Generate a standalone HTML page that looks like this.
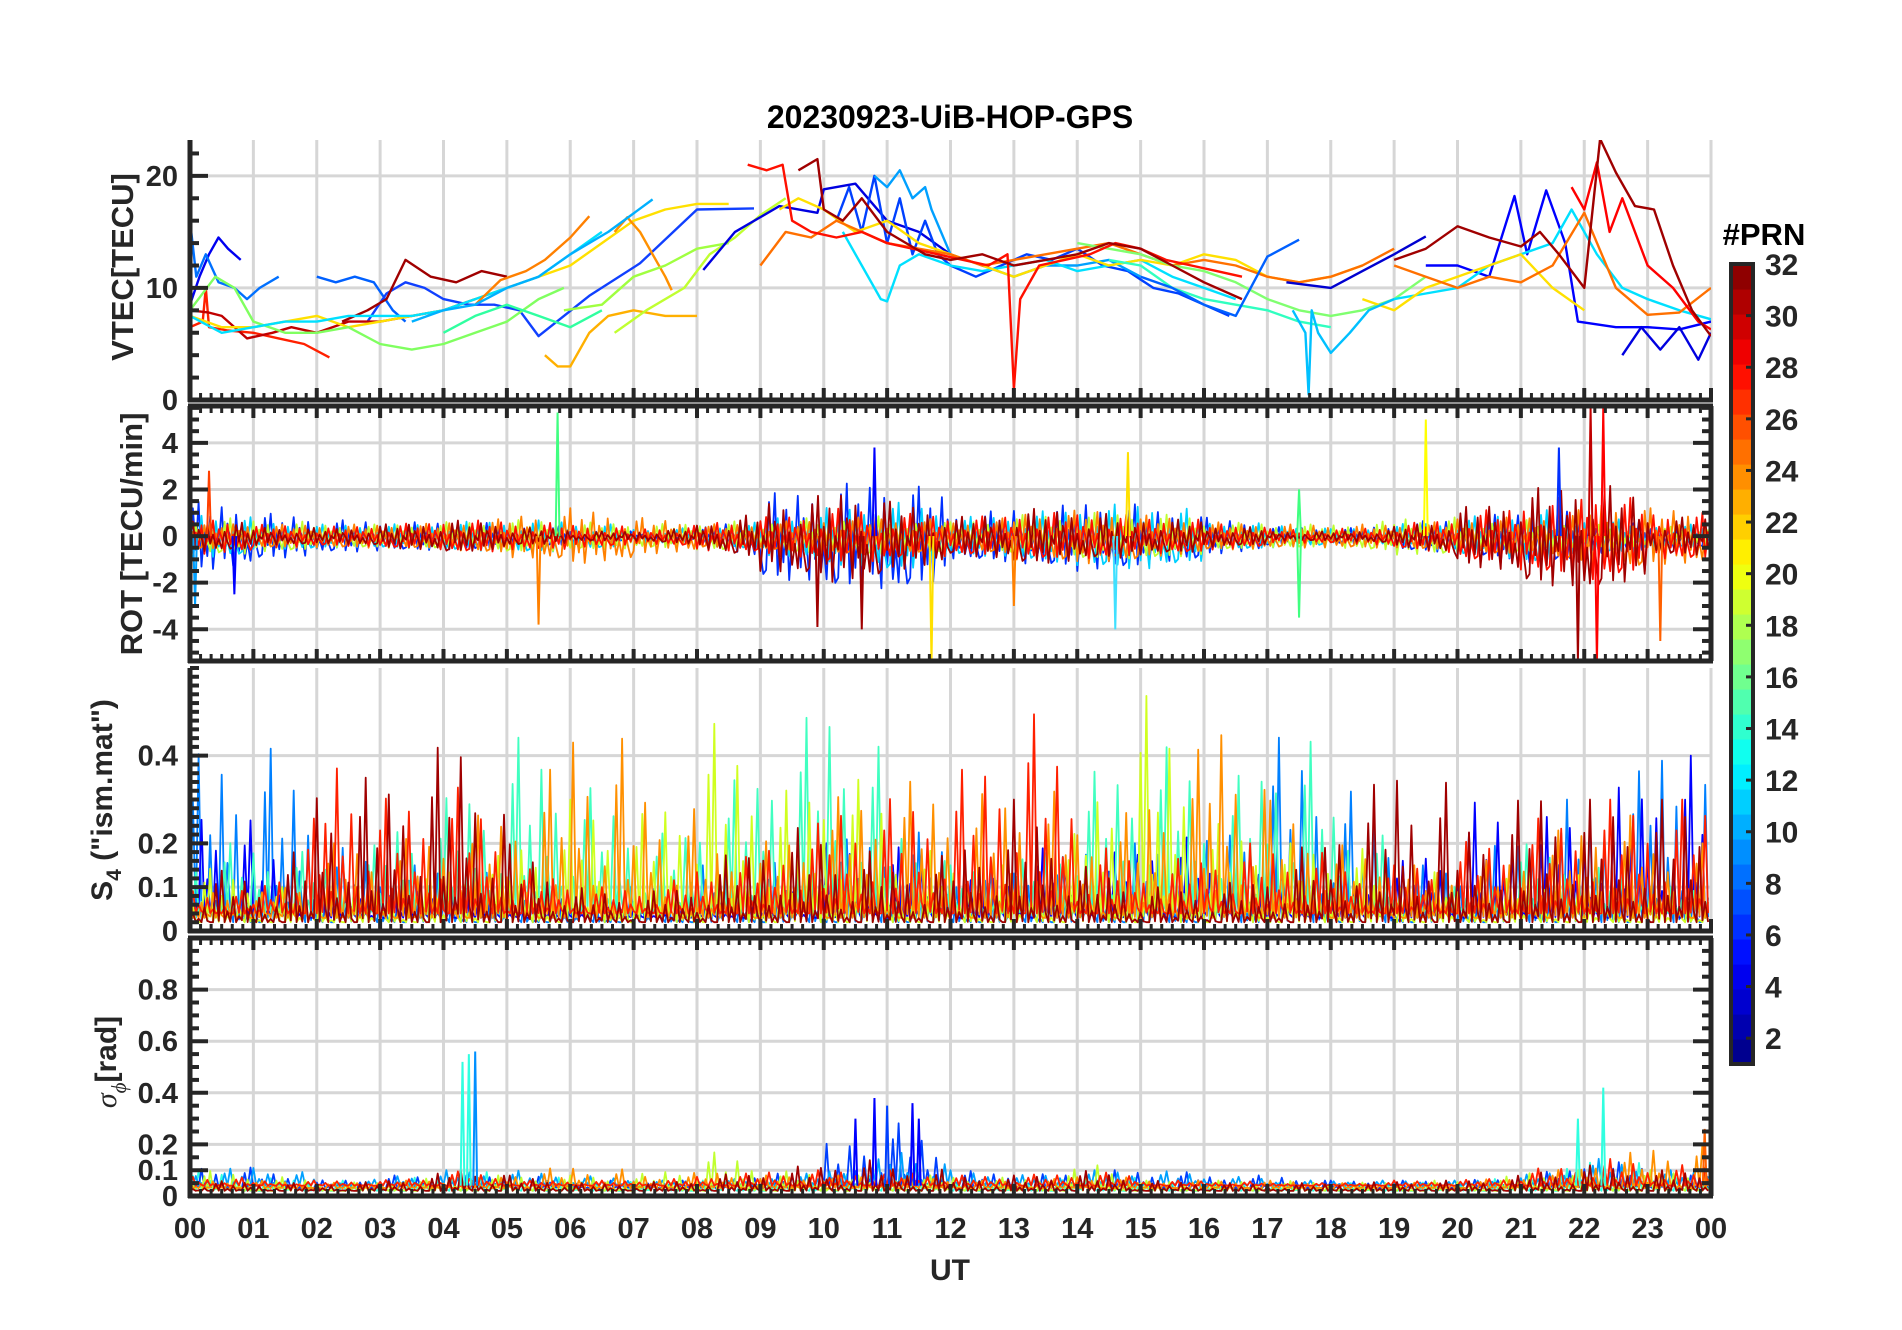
<!DOCTYPE html>
<html><head><meta charset="utf-8"><title>20230923-UiB-HOP-GPS</title>
<style>
html,body{margin:0;padding:0;background:#fff;}
svg{display:block;font-family:"Liberation Sans",Arial,sans-serif;font-weight:bold;}
</style></head>
<body>
<svg id="fig" width="1902" height="1330" viewBox="0 0 1902 1330" xmlns="http://www.w3.org/2000/svg">
<rect width="1902" height="1330" fill="#fff"/>
<text x="950" y="128" font-size="32" text-anchor="middle" fill="#000">20230923-UiB-HOP-GPS</text>
<g id="grid"></g><g id="marks"></g><g id="axes"></g><g id="cbar"></g>
<text transform="translate(133,267) rotate(-90)" font-size="31" text-anchor="middle" fill="#262626">VTEC[TECU]</text>
<text transform="translate(142,534) rotate(-90)" font-size="31" text-anchor="middle" fill="#262626">ROT [TECU/min]</text>
<text transform="translate(112,800) rotate(-90)" font-size="30" text-anchor="middle" fill="#262626">S<tspan font-size="21" dy="9">4</tspan><tspan dy="-9"> ("ism.mat")</tspan></text>
<text transform="translate(116,1062) rotate(-90)" font-size="30" text-anchor="middle" fill="#262626"><tspan font-style="italic" font-weight="normal" font-family="Liberation Serif,serif">σ</tspan><tspan font-size="21" dy="10" font-style="italic" font-weight="normal" font-family="Liberation Serif,serif">ϕ</tspan><tspan dy="-10">[rad]</tspan></text>
<text x="950" y="1280" font-size="30" text-anchor="middle" fill="#262626">UT</text>
<text x="1764" y="245" font-size="31" text-anchor="middle" fill="#000">#PRN</text>
</svg>
<script>
// ---------- data ----------
const hourTicks=[0,1,2,3,4,5,6,7,8,9,10,11,12,13,14,15,16,17,18,19,20,21,22,23,24];
const hourLabels=["00","01","02","03","04","05","06","07","08","09","10","11","12","13","14","15","16","17","18","19","20","21","22","23","00"];
const vtecTicks=[0,10,20];
const rotTicks=[-4,-2,0,2,4];
const s4Ticks=[0,0.1,0.2,0.4];
const sigTicks=[0,0.1,0.2,0.4,0.6,0.8];
const prnTicks=[2,4,6,8,10,12,14,16,18,20,22,24,26,28,30,32];

// VTEC series: colour, times (h), values (TECU)
const vtecColors=['#0000f0','#0070ff','#0060ff','#1040ff','#ff2000','#c00000','#a00000','#ffe000','#80ff60','#00e0ff','#ff8000','#ff9000','#ffb000','#30ffa0','#00b0ff','#c0ff30','#a0ff40','#0000e0','#0040ff','#00a0ff','#00e0ff','#ffe000','#ff7000','#80ff70','#30ffc0','#0060ff','#0000d0','#0000ff','#0000e0','#00e0ff','#ffe000','#00c0ff','#ff7000','#ff1000','#a00000','#ff0000','#a00000'];
const vtecTimes=[
[0,0.15,0.3,0.45,0.6,0.8],
[0,0.1,0.25,0.45,0.7,0.9,1.1,1.4],
[2,2.3,2.6,2.9,3.2,3.4],
[2.8,3.1,3.4,3.7,4.0,4.4,4.8,5.2,5.5,6.3,7.1,8.0,8.9],
[0,0.2,0.25,0.3,0.6,1,1.4,1.8,2.2],
[0,0.3,0.5,0.9,1.3,1.6,2,2.5,3,3.5,4,4.5],
[2.4,2.8,3.1,3.4,3.8,4.2,4.6,5.0],
[0,0.5,1,1.5,2,2.5,3,3.5,4,4.5,5,5.5,6,6.5,7,7.5,8,8.5],
[0,0.4,0.7,1,1.5,2,2.5,3,3.5,4,4.5,5,5.5,5.9],
[0,0.5,1,1.5,2,2.5,3,3.5,4,4.5,5,5.5,6,6.5],
[4.5,4.9,5.3,5.6,6,6.3],
[6.7,6.9,7.1,7.3,7.5,7.6],
[5.6,5.8,6,6.3,6.6,7,7.5,8],
[4,4.5,5,5.5,6,6.5],
[3.5,4,4.5,5,5.5,6,6.6,7.3],
[6.7,7.2,7.8,8.2,8.6,9,9.4],
[5.9,6.5,7,7.5,8,8.5],
[8.1,8.6,9.3,9.9,10.0,10.5,11,11.5,12],
[10.2,10.4,10.6,10.8,11,11.2,11.4,11.6,11.8,12,12.4,12.8,13.2,13.6,14,14.4,14.8,15.2,15.6,16.0,16.4],
[10.8,11,11.2,11.4,11.6,11.7,12,12.5,13,13.5,14,14.5,15],
[10.3,10.6,10.9,11,11.2,11.5,12,12.5,13,13.5,14,14.5,15,15.5,16,16.5],
[9.3,9.6,10,10.5,11,11.5,12,12.5,13,13.5,14,14.5,15,15.5,16,16.5,17,17.5,18,18.5],
[9,9.4,9.8,10.2,10.6,11,11.5,12,12.5,13,13.5,14,14.5,15,15.5,16,16.5,17,17.5,18,18.5,19],
[14,14.5,15,15.5,16,16.5,17,17.5,18,18.5,19,19.5],
[14.5,15,15.5,16,16.5,17,17.5,18],
[15,15.5,16,16.5,17,17.5],
[17.3,18,18.5,19,19.5],
[19.5,20,20.5,20.9,21.1,21.4,21.7,21.9,22.5,23,23.5,24],
[22.6,22.9,23.2,23.5,23.8,24],
[19,19.5,20,20.5,21,21.5,21.8,22.2,22.6,23,23.5,24],
[18.5,19,19.5,20,20.5,21,21.5,22],
[17.4,17.6,17.65,17.7,17.8,18,18.3,18.6,19],
[19,19.5,20,20.5,21,21.5,22,22.5,23,23.5,24],
[8.8,9.1,9.35,9.5,9.8,10.2,10.6,11,11.4,11.8,12.2,12.6,12.9,13.0,13.1,13.4,13.8,14.2,14.6,15,15.4,15.8,16.2,16.6],
[9.6,9.9,10,10.3,10.6,11,11.3,11.6,12,12.5,13,13.5,14,14.5,15,15.5,16,16.6],
[21.8,22,22.2,22.4,22.6,23,23.4,23.8,24],
[19,19.5,20,20.5,21,21.3,21.6,22,22.25,22.5,22.8,23.1,23.4,23.7,24]
];
const vtecValues=[
[8.5,11,13,14.5,13.5,12.5],
[16,11,13,10.5,10,9,10,11],
[11,10.5,11,10.5,8,7],
[7,9.5,10.5,10,9,8.5,8.5,8,5.7,9.3,12.2,17,17.1],
[6.5,7,10,6.5,6.2,6,5.5,5,3.8],
[8,7.8,7.5,5.5,6,6.5,6,7,7,7.5,8,9],
[7,8,9,12.5,11,10.5,11.5,11],
[7.5,6.5,6.5,7,7.5,6.5,7,7.5,8,9,10,11,12,14,16,17,17.5,17.5],
[8,11,10,7,6,6,6.5,5,4.5,5,6,7,9,10],
[7.5,6,6.5,7,7,7.5,7.5,7.5,8,9,10,11,13,15],
[8.5,10.7,11.5,12.5,14.5,16.4],
[15,16.3,15,13,11,9.8],
[4,3,3,6,7.5,8,7.5,7.5],
[6,7.5,8.5,7.5,6.5,8],
[7,8,8.5,10,11,13,15,17.9],
[6,8,10,13,14.5,16.5,18],
[8,8.5,11,12,13.5,14],
[11.6,15,17.3,16.7,18.8,19.3,16,15,13],
[16,19,15,20,14,18,13,16,13,12,11,12,13,12.5,13.5,12,11.5,10,9.5,8.5,7.5],
[20,19,20.5,18,19,17,13,12,11,12,12,12.5,11],
[15,12,9,8.8,12,13,12,11.5,12,12.5,11.5,12,12.5,11,10,9],
[17,18,17,15,16,14,13,12,11,12,13,12,12.5,12,13,12.5,11,10.5,11,12],
[12,15,14.5,16,15,14,13.5,13,12,12.5,13,13.5,14,13,12,12.5,12,11,10.5,11,12,13.5],
[14,13.5,13,12,11.5,10.5,9,8,7.5,8,9,11],
[12.5,12,10,9,8.5,8,7,6.5],
[11,10,8.5,7.5,12.8,14.3],
[10.5,10,11.5,13,14.6],
[12,12,11,18.2,13,18.7,14,7,6.5,6.5,6.3,7],
[4,6.5,4.5,6.5,3.6,6],
[9,9.5,10,12,13,14,17,13,10,9,8,7.2],
[9,8,10,11,12,13,10,8],
[8,6,0.5,8,6,4.2,6,8,9],
[12,11,10,11,10.5,12,16.7,10,7.6,7.8,10],
[21,20.5,21,16,15,14.5,15,14,13.5,13,12.5,12,13,1,9,12,12.5,13,14,13.5,12.5,12,11.5,11],
[20.5,21.5,17,16,18,15,14,13,12.5,13,12,12.5,13,14,13.5,12,10.5,9],
[19,17,21.2,15,18,12,10,7,6.3],
[12.5,13.5,15.5,14.5,13.7,15,13,10,23.3,20.3,17.3,17,12,8,5.7]
];

// ROT: hourly activity amplitude (TECU/min) per PRN colour group
const rotColors=['#0030ff','#00d0ff','#c0ff30','#ff8000','#ff1000','#a00000'];
const rotAmp=[
[1.5,1.0,0.7,0.6,0.6,0.5,0.3,0.1,0.2,1.8,2.2,2.5,1.0,1.2,1.5,1.2,0.8,0.4,0.3,0.6,0.8,1.2,0.8,0.5],
[1.0,0.6,0.5,0.5,0.6,0.7,0.6,0.3,0.4,0.8,1.2,1.5,0.8,1.0,1.3,1.5,0.6,0.5,0.3,0.5,0.8,1.2,0.8,0.5],
[0.8,0.7,0.5,0.5,0.6,0.7,0.6,0.5,0.6,0.7,0.9,0.8,0.6,0.9,1.0,1.0,0.6,0.5,0.5,0.8,0.8,0.7,0.5,0.4],
[0.6,0.5,0.5,0.5,0.6,0.9,1.2,0.8,0.5,0.6,0.8,0.8,0.6,1.0,1.2,0.9,0.6,0.5,0.5,0.5,0.8,0.8,1.5,1.2],
[0.8,0.5,0.4,0.5,0.7,0.6,0.5,0.3,0.6,0.8,1.2,1.0,0.8,1.0,1.0,0.8,0.6,0.3,0.3,0.5,1.0,1.5,2.0,1.0],
[0.7,0.4,0.3,0.5,0.7,0.4,0.2,0.2,0.5,1.5,2.0,1.5,0.8,1.2,1.0,0.8,0.5,0.2,0.2,0.4,1.2,2.0,2.5,0.8]
];
const rotSpikeT=[0.08,0.3,0.7,5.8,5.5,9.9,10.6,10.8,11.7,13,14.6,14.8,17.5,17.5,19.5,21.6,21.9,22.1,22.2,22.3,23.2];
const rotSpikeV=[-3,2.8,-2.5,5.3,-3.8,-3.9,-4,3.8,-5.5,-3,-4,3.6,-3.5,2,5,3.8,-5.3,5.5,-5.5,5.5,-4.5];
const rotSpikeC=['#00a0ff','#ff4000','#0000ff','#40ff80','#ff8000','#a00000','#a00000','#0000ff','#ffe000','#ff8000','#40e0ff','#ffe000','#40ff80','#40ff80','#ffff00','#0030ff','#a00000','#c00000','#ff0000','#ff0000','#ff6000'];

// S4: hourly peak level per colour group
const s4Colors=['#0080ff','#0000ff','#40ffc0','#d0ff20','#ff9000','#ff2000','#a00000'];
const s4Peak=[
[0.4,0.45,0.2,0.15,0.15,0.1,0.1,0.1,0.15,0.15,0.2,0.25,0.15,0.15,0.2,0.2,0.2,0.45,0.35,0.15,0.15,0.3,0.3,0.45],
[0.3,0.2,0.1,0.1,0.1,0.08,0.08,0.05,0.08,0.1,0.2,0.2,0.1,0.2,0.15,0.25,0.15,0.1,0.1,0.15,0.3,0.25,0.3,0.4],
[0.2,0.2,0.15,0.25,0.3,0.45,0.35,0.2,0.3,0.45,0.55,0.25,0.15,0.15,0.35,0.45,0.3,0.5,0.3,0.1,0.1,0.2,0.15,0.1],
[0.15,0.1,0.1,0.1,0.15,0.2,0.3,0.25,0.5,0.3,0.4,0.2,0.15,0.15,0.3,0.55,0.25,0.2,0.2,0.15,0.1,0.15,0.1,0.1],
[0.1,0.08,0.2,0.2,0.25,0.3,0.5,0.35,0.2,0.2,0.3,0.35,0.3,0.35,0.25,0.3,0.55,0.3,0.2,0.15,0.15,0.2,0.3,0.2],
[0.1,0.08,0.45,0.3,0.35,0.15,0.1,0.1,0.15,0.2,0.3,0.3,0.35,0.55,0.2,0.15,0.2,0.2,0.15,0.15,0.2,0.25,0.3,0.3],
[0.15,0.1,0.35,0.35,0.5,0.2,0.1,0.08,0.15,0.25,0.2,0.15,0.2,0.3,0.15,0.1,0.1,0.15,0.3,0.4,0.25,0.35,0.3,0.3]
];
// sigma_phi: hourly peak level per colour group
const sigColors=['#30ffe0','#0040ff','#00a0ff','#c0ff30','#ff9000','#ff2000','#a00000'];
const sigPeak=[
[0.1,0.07,0.06,0.06,0.1,0.08,0.06,0.05,0.06,0.06,0.08,0.1,0.06,0.05,0.08,0.06,0.05,0.05,0.05,0.05,0.06,0.08,0.15,0.1],
[0.12,0.1,0.06,0.08,0.08,0.08,0.06,0.06,0.06,0.08,0.2,0.3,0.1,0.08,0.1,0.1,0.08,0.08,0.06,0.06,0.06,0.08,0.15,0.08],
[0.1,0.12,0.05,0.08,0.1,0.1,0.08,0.06,0.06,0.08,0.1,0.2,0.1,0.08,0.1,0.1,0.08,0.06,0.06,0.06,0.06,0.08,0.15,0.1],
[0.1,0.08,0.05,0.06,0.08,0.08,0.08,0.08,0.18,0.1,0.08,0.08,0.08,0.06,0.15,0.06,0.06,0.06,0.05,0.06,0.06,0.1,0.1,0.1],
[0.06,0.06,0.05,0.06,0.06,0.1,0.12,0.08,0.1,0.08,0.08,0.08,0.06,0.06,0.08,0.06,0.06,0.06,0.05,0.05,0.06,0.08,0.15,0.2],
[0.08,0.06,0.06,0.06,0.1,0.06,0.06,0.06,0.08,0.1,0.1,0.1,0.08,0.08,0.1,0.06,0.06,0.05,0.05,0.06,0.06,0.1,0.15,0.12],
[0.06,0.05,0.05,0.06,0.12,0.08,0.05,0.05,0.08,0.1,0.15,0.12,0.08,0.08,0.1,0.06,0.05,0.05,0.05,0.06,0.06,0.1,0.12,0.1]
];
const sigSpikeT=[4.3,4.4,4.5,10.5,10.8,11.0,11.4,11.5,21.9,22.3,23.9];
const sigSpikeV=[0.52,0.55,0.56,0.3,0.38,0.35,0.36,0.3,0.3,0.42,0.26];
const sigSpikeC=['#30ffe0','#30ffe0','#0090ff','#0000ff','#0000ff','#0040ff','#0000ff','#0000ff','#30ffe0','#30ffe0','#ff6000'];

// ---------- layout ----------
const NS='http://www.w3.org/2000/svg';
const X0=190,X1=1711;
const xS=h=>X0+(X1-X0)*h/24;
const panels=[
 {name:'vtec',top:140,bot:400,min:0,max:23.2,box:false},
 {name:'rot',top:406,bot:661,min:-5.36,max:5.58,box:true},
 {name:'s4',top:668,bot:931,min:0,max:0.6,box:false},
 {name:'sigma',top:938,bot:1196,min:0,max:1,box:true}
];
panels.forEach(p=>p.y=v=>p.bot-(v-p.min)/(p.max-p.min)*(p.bot-p.top));
const JIT=[0.1,0.9,0.3,1,0.05,0.6,0.2,0.8,0,0.5,0.35,0.95,0.15,0.7,0.45,0.02,0.85,0.25,0.55,0.12,0.4,0.08,0.65,0.3,0.05];
function el(tag,attrs,parent){const e=document.createElementNS(NS,tag);for(const k in attrs)e.setAttribute(k,attrs[k]);parent.appendChild(e);return e;}
const G=document.getElementById('grid'),M=document.getElementById('marks'),A=document.getElementById('axes'),C=document.getElementById('cbar');
const ink='#262626';

const defs=el('defs',{},document.getElementById('fig'));
panels.forEach((p,i)=>{const cp=el('clipPath',{id:'clip'+i},defs);el('rect',{x:X0,y:p.top,width:X1-X0,height:p.bot-p.top},cp);});

const yGrid=[vtecTicks,rotTicks,s4Ticks,sigTicks];
panels.forEach((p,i)=>{
  hourTicks.forEach(h=>{const l=el('line',{x1:xS(h),x2:xS(h),y1:p.top,y2:p.bot,stroke:'#d6d6d6','stroke-width':3},G);
    
    });
  yGrid[i].forEach(v=>{const l=el('line',{x1:X0,x2:X1,y1:p.y(v),y2:p.y(v),stroke:'#d6d6d6','stroke-width':3},G);
    
    });
});

const p0=panels[0];
const gV=el('g',{'clip-path':'url(#clip0)'},M);


vtecTimes.forEach((ts,k)=>{
  const pts=ts.map((t,j)=>xS(t).toFixed(1)+','+p0.y(vtecValues[k][j]).toFixed(1)).join(' ');
  const pl=el('polyline',{points:pts,fill:'none',stroke:vtecColors[k],'stroke-width':2.4,'stroke-linejoin':'round'},gV);
  
  
});

function activity(arr,colors,p,mode,g,prefix){
  arr.forEach((lv,k)=>{
    const pts=[];const N=22;
    for(let h=0;h<24;h++){
      for(let s=0;s<N;s++){
        const t=h+s/N;
        const f=s/N;const nxt=h<23?lv[h+1]:lv[h];
        const a=lv[h]*(1-f*0.5)+nxt*(f*0.5);
        const j=JIT[(h*N+s+k*7)%JIT.length];
        let v;
        if(mode==='sym'){v=-a+2*a*j;}
        else{const base=0.02+0.01*(k%3);v=base+(a-base)*Math.pow(j,3);}
        pts.push(xS(t).toFixed(1)+','+p.y(v).toFixed(1));
      }
    }
    const pl=el('polyline',{points:pts.join(' '),fill:'none',stroke:colors[k],'stroke-width':1.8,'stroke-linejoin':'round'},g);
    
    
  });
}
function spikes(ts,vs,cs,p,base,g,prefix){
  ts.forEach((t,i)=>{
    const l=el('polyline',{points:xS(t-0.03)+','+p.y(base)+' '+xS(t)+','+p.y(vs[i])+' '+xS(t+0.03)+','+p.y(base),fill:'none',stroke:cs[i],'stroke-width':2},g);
    
    
  });
}
const gR=el('g',{'clip-path':'url(#clip1)'},M);


activity(rotAmp,rotColors,panels[1],'sym',gR,'rot');
spikes(rotSpikeT,rotSpikeV,rotSpikeC,panels[1],0,gR,'rot');
const gS=el('g',{'clip-path':'url(#clip2)'},M);


activity(s4Peak,s4Colors,panels[2],'pos',gS,'s4');
const gP=el('g',{'clip-path':'url(#clip3)'},M);


activity(sigPeak,sigColors,panels[3],'pos',gP,'sigma');
spikes(sigSpikeT,sigSpikeV,sigSpikeC,panels[3],0.04,gP,'sigma');

const yMinor=[2,0.5,0.02,0.05];
const yLabels=[vtecTicks,rotTicks,s4Ticks,sigTicks];
panels.forEach((p,i)=>{
  const g=el('g',{},A);
  
  
  const sides=p.box?['bottom','top']:['bottom'];
  for(let m=0;m<=24*6;m++){
    const h=m/6,x=xS(h),maj=(m%6===0),len=maj?12:7;
    sides.forEach(sd=>{
      const y=sd==='bottom'?p.bot:p.top,dir=sd==='bottom'?-1:1;
      el('line',{x1:x,x2:x,y1:y,y2:y+dir*len,stroke:ink,'stroke-width':maj?4:3},g);
    });
  }
  const ys=p.box?[X0,X1]:[X0];
  const start=Math.ceil(p.min/yMinor[i]);
  for(let n=start;n*yMinor[i]<=p.max+1e-9;n++){
    const vv=n*yMinor[i];
    const maj=yLabels[i].some(t=>Math.abs(t-vv)<1e-6);
    ys.forEach(xx=>{const dir=xx===X0?1:-1;
      el('line',{x1:xx,x2:xx+dir*(maj?18:9),y1:p.y(vv),y2:p.y(vv),stroke:ink,'stroke-width':4},g);});
  }
  el('line',{x1:X0,x2:X0,y1:p.top,y2:p.bot+2,stroke:ink,'stroke-width':5},g);
  el('line',{x1:X0-2,x2:X1+2,y1:p.bot,y2:p.bot,stroke:ink,'stroke-width':5},g);
  if(p.box){
    el('line',{x1:X1,x2:X1,y1:p.top,y2:p.bot,stroke:ink,'stroke-width':5},g);
    el('line',{x1:X0-2,x2:X1+2,y1:p.top,y2:p.top,stroke:ink,'stroke-width':5},g);
  }
  yLabels[i].forEach(v=>{
    const t=el('text',{x:178,y:p.y(v)+10,'font-size':29,'text-anchor':'end',fill:ink},g);
    t.textContent=String(v);
    
    
  });
});
hourTicks.forEach((h,i)=>{
  const t=el('text',{x:xS(h),y:1238,'font-size':29,'text-anchor':'middle',fill:ink},A);
  t.textContent=hourLabels[i];
  
  
});

function jet(f){const r=Math.min(Math.max(Math.min(4*f-1.5,-4*f+4.5),0),1),gg=Math.min(Math.max(Math.min(4*f-0.5,-4*f+3.5),0),1),b=Math.min(Math.max(Math.min(4*f+0.5,-4*f+2.5),0),1);
  return 'rgb('+Math.round(r*255)+','+Math.round(gg*255)+','+Math.round(b*255)+')';}
const CB={x:1731,w:22,top:264,bot:1064,min:1,max:32};
const cy=v=>CB.bot-(v-CB.min)/(CB.max-CB.min)*(CB.bot-CB.top);
const gC=el('g',{},C);


const nLev=32,hh=(CB.bot-CB.top)/nLev;
for(let i=0;i<nLev;i++){
  el('rect',{x:CB.x,y:CB.bot-(i+1)*hh,width:CB.w,height:hh+0.6,fill:jet((i+0.5)/nLev)},gC);
}
el('rect',{x:CB.x,y:CB.top,width:CB.w,height:CB.bot-CB.top,fill:'none',stroke:ink,'stroke-width':4},gC);
prnTicks.forEach(v=>{
  el('line',{x1:CB.x+CB.w-7,x2:CB.x+CB.w,y1:cy(v),y2:cy(v),stroke:ink,'stroke-width':3},gC);
  const t=el('text',{x:1765,y:cy(v)+11,'font-size':30,fill:ink},gC);
  t.textContent=String(v);
  
  
});
</script>
</body></html>
